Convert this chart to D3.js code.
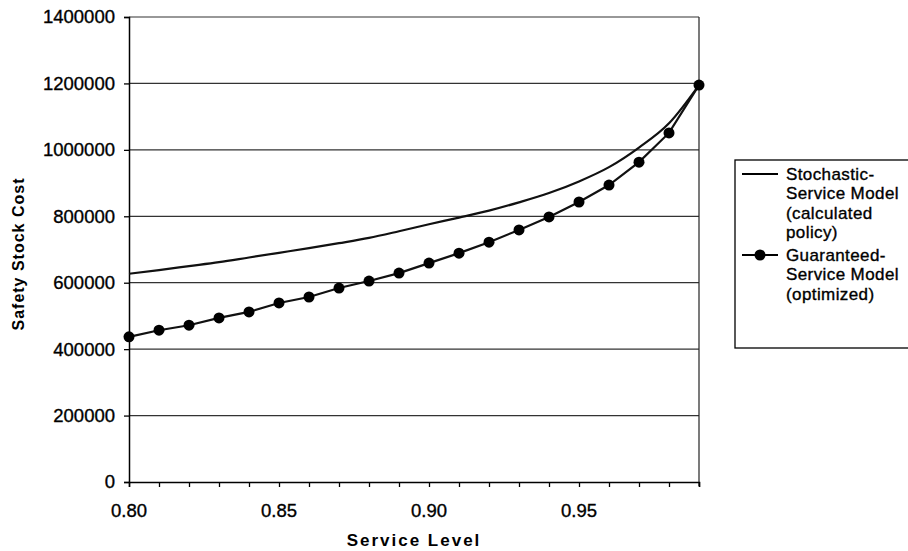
<!DOCTYPE html>
<html>
<head>
<meta charset="utf-8">
<script src="https://cdn.jsdelivr.net/npm/d3@7"></script>
<style>
  html, body { margin: 0; padding: 0; background: #fff; }
  svg { display: block; font-family: "Liberation Sans", Arial, sans-serif; }
</style>
</head>
<body>
<svg id="chart" width="908" height="551"></svg>
<script>
// ---- data ----
const serviceLevels = [0.80, 0.81, 0.82, 0.83, 0.84, 0.85, 0.86, 0.87, 0.88, 0.89,
                       0.90, 0.91, 0.92, 0.93, 0.94, 0.95, 0.96, 0.97, 0.98, 0.99];
const stochasticCost = [627000, 638000, 650000, 662000, 676000, 690000, 704000, 719000, 735000, 755000,
                        776000, 796000, 817000, 842000, 870000, 905000, 948000, 1007000, 1080000, 1195000];
const guaranteedCost = [437000, 457000, 472000, 494000, 512000, 539000, 557000, 584000, 605000, 629000,
                        659000, 689000, 722000, 759000, 798000, 843000, 894000, 963000, 1051000, 1195000];
const yTickValues = [0, 200000, 400000, 600000, 800000, 1000000, 1200000, 1400000];
const xTickValues = [0.80, 0.81, 0.82, 0.83, 0.84, 0.85, 0.86, 0.87, 0.88, 0.89,
                     0.90, 0.91, 0.92, 0.93, 0.94, 0.95, 0.96, 0.97, 0.98, 0.99];
const xLabelValues = [0.80, 0.85, 0.90, 0.95];
const legendStochastic = ["Stochastic-", "Service Model", "(calculated", "policy)"];
const legendGuaranteed = ["Guaranteed-", "Service Model", "(optimized)"];
const xTitle = "Service Level";
const yTitle = "Safety Stock Cost";

// ---- layout ----
const svg = d3.select("#chart");
const L = 129, R = 699, T = 17, B = 482;
const x = d3.scaleLinear().domain([0.80, 0.99]).range([L, R]);
const y = d3.scaleLinear().domain([0, 1400000]).range([B, T]);

// gridlines
svg.append("g").selectAll("line").data(yTickValues.filter(d => d > 0)).join("line")
  .attr("x1", L).attr("x2", R)
  .attr("y1", d => y(d)).attr("y2", d => y(d))
  .attr("stroke", "#333").attr("stroke-width", 1.2);

// right border
svg.append("line").attr("x1", R).attr("x2", R).attr("y1", T).attr("y2", B + 4)
  .attr("stroke", "#222").attr("stroke-width", 1.2);

// y axis
const yAxis = svg.append("g").attr("transform", `translate(${L},0)`)
  .call(d3.axisLeft(y).tickValues(yTickValues).tickSize(5).tickPadding(9).tickFormat(d3.format("d")));
yAxis.select(".domain").attr("stroke", "#000").attr("stroke-width", 1.5);
yAxis.selectAll(".tick line").attr("stroke", "#000").attr("stroke-width", 1.3);
yAxis.selectAll("text").attr("font-size", "18.5px").attr("fill", "#000")
  .attr("stroke", "#000").attr("stroke-width", 0.35)
  .attr("font-family", "Liberation Sans, Arial, sans-serif");

// x axis
const xAxis = svg.append("g").attr("transform", `translate(0,${B})`)
  .call(d3.axisBottom(x).tickValues(xTickValues).tickSize(5).tickFormat(""));
xAxis.select(".domain").attr("stroke", "#000").attr("stroke-width", 1.5);
xAxis.selectAll(".tick line").attr("stroke", "#000").attr("stroke-width", 1.3);

svg.append("g").selectAll("text").data(xLabelValues).join("text")
  .attr("x", d => x(d)).attr("y", 510)
  .attr("text-anchor", "middle").attr("dominant-baseline", "central")
  .attr("font-size", "18.5px").attr("fill", "#000")
  .attr("stroke", "#000").attr("stroke-width", 0.35)
  .text(d => d3.format(".2f")(d));

// axis titles
svg.append("text").attr("x", (L + R) / 2).attr("y", 540)
  .attr("text-anchor", "middle").attr("dominant-baseline", "central")
  .attr("font-size", "17px").attr("font-weight", "bold").attr("letter-spacing", "2px")
  .text(xTitle);
svg.append("text").attr("transform", "translate(18,254) rotate(-90)")
  .attr("text-anchor", "middle").attr("dominant-baseline", "central")
  .attr("font-size", "16px").attr("font-weight", "bold").attr("letter-spacing", "1px")
  .text(yTitle);

// series
const stochData = serviceLevels.map((s, i) => [s, stochasticCost[i]]);
const guarData = serviceLevels.map((s, i) => [s, guaranteedCost[i]]);

svg.append("path").datum(stochData)
  .attr("fill", "none").attr("stroke", "#111").attr("stroke-width", 2.2)
  .attr("d", d3.line().x(d => x(d[0])).y(d => y(d[1])).curve(d3.curveMonotoneX));

svg.append("path").datum(guarData)
  .attr("fill", "none").attr("stroke", "#111").attr("stroke-width", 2.2)
  .attr("d", d3.line().x(d => x(d[0])).y(d => y(d[1])));

svg.append("g").selectAll("circle").data(guarData).join("circle")
  .attr("cx", d => x(d[0])).attr("cy", d => y(d[1])).attr("r", 5.5)
  .attr("fill", "#000");

// legend
const lg = svg.append("g");
lg.append("rect").attr("x", 735).attr("y", 160).attr("width", 200).attr("height", 188)
  .attr("fill", "#fff").attr("stroke", "#000").attr("stroke-width", 1.3);
const lh = 19.5;
const s1 = 174, s2 = 255;
lg.append("line").attr("x1", 742).attr("x2", 778).attr("y1", s1).attr("y2", s1)
  .attr("stroke", "#000").attr("stroke-width", 2.2);
lg.append("g").selectAll("text").data(legendStochastic).join("text")
  .attr("x", 786).attr("y", (d, i) => s1 + i * lh)
  .attr("dominant-baseline", "central").attr("font-size", "17px").attr("letter-spacing", "0.4px")
  .attr("fill", "#000").attr("stroke", "#000").attr("stroke-width", 0.35)
  .text(d => d);
lg.append("line").attr("x1", 742).attr("x2", 778).attr("y1", s2).attr("y2", s2)
  .attr("stroke", "#000").attr("stroke-width", 2.2);
lg.append("circle").attr("cx", 760).attr("cy", s2).attr("r", 5.5).attr("fill", "#000");
lg.append("g").selectAll("text").data(legendGuaranteed).join("text")
  .attr("x", 786).attr("y", (d, i) => s2 + i * lh)
  .attr("dominant-baseline", "central").attr("font-size", "17px").attr("letter-spacing", "0.4px")
  .attr("fill", "#000").attr("stroke", "#000").attr("stroke-width", 0.35)
  .text(d => d);
</script>
</body>
</html>
